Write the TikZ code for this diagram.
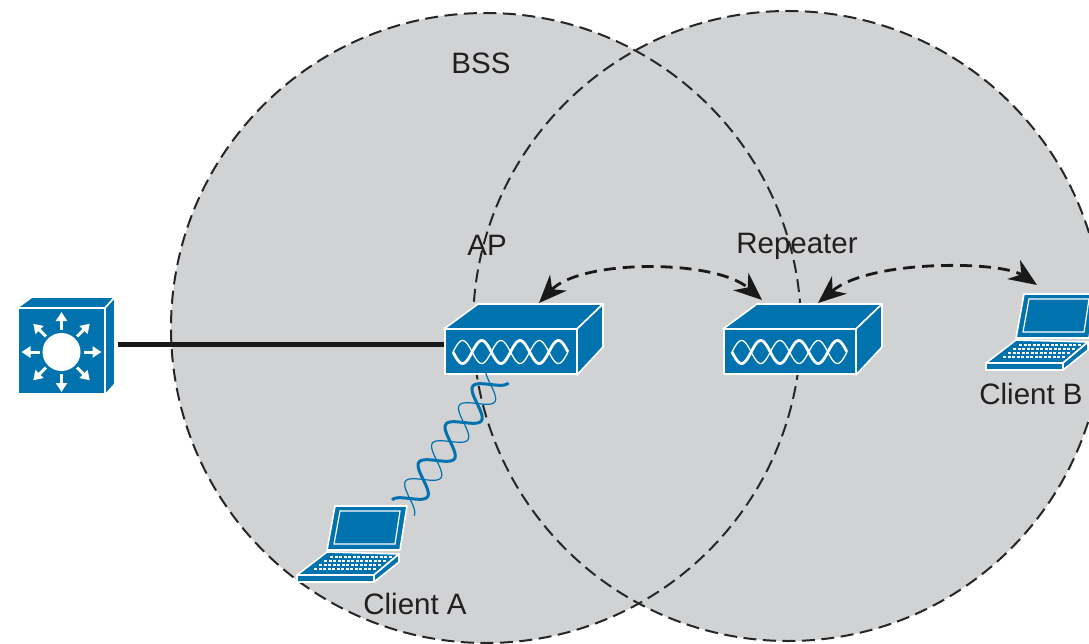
\documentclass[tikz,border=0pt]{standalone}
\usepackage{fontspec}
\setmainfont{Liberation Sans}
\usetikzlibrary{arrows.meta,calc}
\definecolor{iconblue}{HTML}{0072AE}
\definecolor{cellgray}{HTML}{D1D2D4}
\definecolor{labelgray}{HTML}{231F20}
\tikzset{
  cell/.style = {fill = cellgray, draw = none},
  celledge/.style = {draw = black!85, line width = 2, dash pattern = on 13 off 6.5},
  iconface/.style = {fill = iconblue, draw = white, line width = 1.6, line join = round},
  link/.style = {black!90, line width = 2.8, dash pattern = on 12 off 7, {Stealth[length=28,width=23,inset=9]}-{Stealth[length=28,width=23,inset=9]}},
  tag/.style = {text = labelgray, font = \fontsize{29.5}{32}\selectfont, inner sep = 0, anchor = base},
  apbox/.pic = {
    \node[iconface, shape = rectangle, minimum width = 133, minimum height = 46, anchor = south west, inner sep = 0] (-front) at (0,0) {};
    \draw[iconface] (0,-46) -- (34,-71) -- (159,-71) -- (133,-46) -- cycle;
    \draw[iconface] (133,-46) -- (159,-71) -- (159,-28) -- (133,0) -- cycle;
    \foreach \lw/\sgn in {2.8/1, 1.3/-1} {
      \draw[white, line width = \lw, variable = \t] plot[domain = 0:1, samples = 90, smooth] ({9+115*\t}, {-23+\sgn*11.5*sin(1080*\t)});
    }
    \coordinate (-topL) at (39,-75);
    \coordinate (-topR) at (95,-72);
  },
  laptop/.pic = {
    \draw[iconface] (39,-76) -- (111,-76) -- (104,-32) -- (31,-32) -- cycle;
    \draw[white, line width = 1.2] (44,-71) -- (104,-71) -- (99,-38) -- (38,-38) -- cycle;
    \draw[iconface] (31,-30) -- (103,-28) -- (78,-7) -- (1,-7) -- cycle;
    \draw[iconface] (1,-7) -- (78,-7) -- (78,0) -- (1,0) -- cycle;
    \draw[iconface] (78,0) -- (103,-20) -- (103,-28) -- (78,-7) -- cycle;
    \foreach \row/\xa/\xb in {-25/34/96, -21/28/91, -17/23/86, -13/18/81} {
      \draw[white, line width = 1.2, dash pattern = on 3 off 1.5] (\xa,\row) -- (\xb,\row);
    }
    \coordinate (-screen) at (52,-85);
    \coordinate (-ant) at (107,-74);
  },
  switchbox/.pic = {
    \node[iconface, shape = rectangle, minimum width = 88, minimum height = 87, anchor = south west, inner sep = 0] (-front) at (-1,0) {};
    \draw[iconface] (-1,-87) -- (14,-98) -- (97,-98) -- (87,-87) -- cycle;
    \draw[iconface] (87,-87) -- (97,-98) -- (97,-11) -- (87,0) -- cycle;
    \fill[white] (43.5,-43) circle (19);
    \begin{scope}[shift = {(43.5,-43)}]
      \foreach \ang in {0,45,...,315} {
        \draw[white, line width = 3, -{Triangle[length=9,width=11]}] (\ang:22) -- (\ang:40);
      }
    \end{scope}
  },
}

\begin{document}
\begin{tikzpicture}[x = 1pt, y = -1pt]
\useasboundingbox (0,0) rectangle (1089,644);
\clip (0,0) rectangle (1089,644);

\fill[cell] (486,328) circle (315);
\fill[cell] (788,326) circle (315);
\draw[celledge] (486,328) circle (315);
\draw[celledge] (788,326) circle (315);

\pic (sw) at (18,395) {switchbox};
\pic (ap) at (444,375) {apbox};
\pic (rep) at (723,375) {apbox};
\pic (cla) at (296,582) {laptop};
\pic (clb) at (985,370) {laptop};

\coordinate (uplink) at (118,344.5);
\draw[black!90, line width = 5.5] (uplink) -- (ap-front.west |- uplink);

% radio link down to the laptop
\coordinate (radio) at ([xshift = -14]ap-front.south);
\foreach \lw/\sgn in {3/1, 1.2/-1} {
  \draw[iconblue, line width = \lw, variable = \t] let \p1 = (radio), \p2 = (cla-ant), \n1 = {veclen(\x2-\x1,\y2-\y1)} in
    plot[domain = 0:1, samples = 140, smooth] ({\x1+(\x2-\x1)*\t+\sgn*13.5*cos(1260*\t)*(\y1-\y2)/\n1*1pt}, {\y1+(\y2-\y1)*\t+\sgn*13.5*cos(1260*\t)*(\x2-\x1)/\n1*1pt});
}

\draw[link] (ap-topR) .. controls +(42,-44) and +(-47,-41) .. (rep-topL);
\draw[link] (rep-topR) .. controls +(52,-44) and +(-36,-24) .. (clb-screen);

\node[tag] (bss) at (481,74) {BSS};
\node[tag] (aplabel) at (487,255) {AP};
\node[tag] (replabel) at (797,254) {Repeater};
\node[tag] (clalabel) at (415,614) {Client A};
\node[tag] (clblabel) at (1031,404) {Client B};
\end{tikzpicture}
\end{document}
